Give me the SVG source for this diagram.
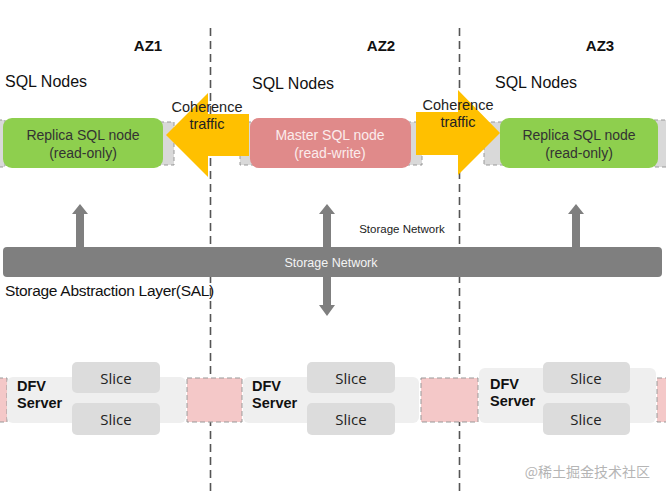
<svg xmlns="http://www.w3.org/2000/svg" width="666" height="495" viewBox="0 0 666 495">
<style>
.az{font-family:"Liberation Sans",Arial,sans-serif;font-weight:bold;font-size:15px;fill:#111;text-anchor:middle}
.lbl{font-family:"Liberation Sans",Arial,sans-serif;font-size:16px;fill:#111}
.nt{font-family:"Liberation Sans",Arial,sans-serif;font-size:14px;fill:#333;text-anchor:middle}
.mt{font-family:"Liberation Sans",Arial,sans-serif;font-size:14px;fill:#fbecec;text-anchor:middle}
.ct{font-family:"Liberation Sans",Arial,sans-serif;font-size:14.5px;fill:#222;text-anchor:middle}
.tab{fill:#d9d9d9;stroke:#999;stroke-width:1;stroke-dasharray:4,3}
.green{fill:#8ecf4e}
.pink{fill:#e08a8a}
.yel{fill:#ffc000}
.gray{fill:#7f7f7f}
.srv{fill:#efefef}
.slice{fill:#dcdcdc}
.div{fill:#f4c8c8;stroke:#999;stroke-width:1;stroke-dasharray:5,3}
.dfv{font-family:"Liberation Sans",Arial,sans-serif;font-weight:bold;font-size:14.5px;fill:#111}
.st{font-family:"Open Sans","DejaVu Sans",sans-serif;font-size:15px;fill:#222;text-anchor:middle}
.vl{stroke:#555;stroke-width:1.6;stroke-dasharray:8,5;fill:none}
</style>

<!-- zone separators -->
<line class="vl" x1="210.5" y1="28" x2="210.5" y2="495"/>
<line class="vl" x1="459.5" y1="28" x2="459.5" y2="495"/>

<g id="az-labels">
<text class="az" x="148" y="51">AZ1</text>
<text class="az" x="381" y="51">AZ2</text>
<text class="az" x="600" y="51">AZ3</text>
</g>

<g id="sql-labels">
<text class="lbl" x="5" y="87">SQL Nodes</text>
<text class="lbl" x="252" y="89">SQL Nodes</text>
<text class="lbl" x="495" y="88">SQL Nodes</text>
</g>

<!-- gray side tabs -->
<g id="sql-tabs">
<rect class="tab" x="-2" y="120" width="7" height="47"/>
<rect class="tab" x="160" y="122" width="14" height="43"/>
<rect class="tab" x="240" y="122" width="14" height="43"/>
<rect class="tab" x="407" y="122" width="15" height="43"/>
<rect class="tab" x="484" y="122" width="20" height="43"/>
<rect class="tab" x="654" y="120" width="14" height="47"/>
</g>

<g id="replica1">
<rect class="green" x="3" y="118" width="160" height="50" rx="9"/>
<text class="nt" x="83" y="140">Replica SQL node</text>
<text class="nt" x="83" y="158">(read-only)</text>
</g>

<g id="master">
<rect class="pink" x="250" y="118" width="161" height="50" rx="9"/>
<text class="mt" x="330" y="140">Master SQL node</text>
<text class="mt" x="330" y="158">(read-write)</text>
</g>

<g id="replica3">
<rect class="green" x="500" y="118" width="158" height="50" rx="9"/>
<text class="nt" x="579" y="140">Replica SQL node</text>
<text class="nt" x="579" y="158">(read-only)</text>
</g>

<g id="connectors">
<polygon class="yel" points="249,114 208,114 208,93 166,135 208,177 208,156 249,156"/>
<polygon class="yel" points="416,112 458,112 458,90 500,133 458,175 458,155 416,155"/>
<polygon class="gray" points="72,214 80,204 88,214 84,214 84,248 76,248 76,214"/>
<polygon class="gray" points="568,214 576,204 584,214 580,214 580,248 572,248 572,214"/>
<polygon class="gray" points="319,214 327,204 335,214 331,214 331,305 335,305 327,316 319,305 323,305 323,214"/>
</g>
<g id="coherence-labels">
<text class="ct" x="207" y="112">Coherence</text>
<text class="ct" x="207" y="129">traffic</text>
<text class="ct" x="458" y="110">Coherence</text>
<text class="ct" x="458" y="127">traffic</text>
</g>

<text x="402" y="233" font-family="Liberation Sans,Arial,sans-serif" font-size="11.5" fill="#222" text-anchor="middle">Storage Network</text>

<g id="storage-network">
<rect class="gray" x="3" y="247" width="659" height="30" rx="4"/>
<text x="331" y="267" font-family="Liberation Sans,Arial,sans-serif" font-size="12.5" fill="#f4f4f4" text-anchor="middle">Storage Network</text>
</g>

<text x="5" y="296" font-family="Liberation Sans,Arial,sans-serif" font-size="15.5" fill="#111" letter-spacing="-0.3">Storage Abstraction Layer(SAL)</text>

<!-- DFV row -->
<g id="dividers">
<rect class="div" x="-2" y="378" width="9" height="44"/>
<rect class="div" x="187" y="378" width="55" height="44"/>
<rect class="div" x="421" y="378" width="57" height="44"/>
<rect class="div" x="657" y="378" width="12" height="44"/>
</g>

<g id="dfv1">
<rect class="srv" x="7" y="377" width="179" height="46" rx="6"/>
<text class="dfv" x="17" y="391">DFV</text>
<text class="dfv" x="17" y="408">Server</text>
<g id="dfv1-slice1"><rect class="slice" x="72" y="362" width="88" height="31" rx="5"/><text class="st" x="116" y="384">Slice</text></g>
<g id="dfv1-slice2"><rect class="slice" x="72" y="403" width="88" height="32" rx="5"/><text class="st" x="116" y="425">Slice</text></g>
</g>

<g id="dfv2">
<rect class="srv" x="243" y="377" width="176" height="46" rx="6"/>
<text class="dfv" x="252" y="391">DFV</text>
<text class="dfv" x="252" y="408">Server</text>
<g id="dfv2-slice1"><rect class="slice" x="307" y="362" width="88" height="31" rx="5"/><text class="st" x="351" y="384">Slice</text></g>
<g id="dfv2-slice2"><rect class="slice" x="307" y="403" width="88" height="32" rx="5"/><text class="st" x="351" y="425">Slice</text></g>
</g>

<g id="dfv3">
<rect class="srv" x="479" y="368" width="177" height="55" rx="6"/>
<text class="dfv" x="490" y="389">DFV</text>
<text class="dfv" x="490" y="406">Server</text>
<g id="dfv3-slice1"><rect class="slice" x="543" y="362" width="87" height="31" rx="5"/><text class="st" x="586" y="384">Slice</text></g>
<g id="dfv3-slice2"><rect class="slice" x="543" y="403" width="87" height="32" rx="5"/><text class="st" x="586" y="425">Slice</text></g>
</g>

<text x="650" y="477" font-family="Noto Sans CJK SC,sans-serif" font-size="14" fill="#b5b5b5" text-anchor="end">@稀土掘金技术社区</text>
</svg>
